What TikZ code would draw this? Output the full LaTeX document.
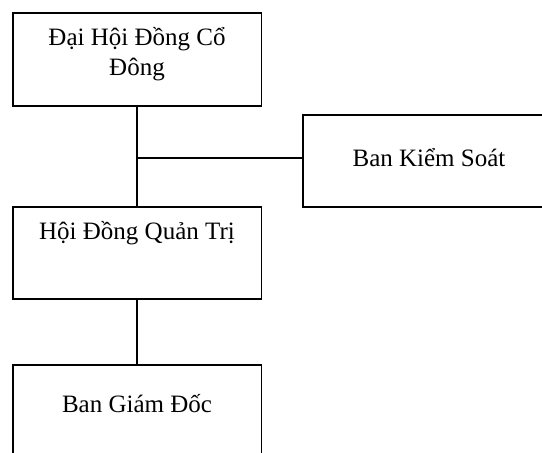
\documentclass[tikz,border=0pt]{standalone}
\usepackage{fontspec}
\setmainfont{Liberation Serif}
\begin{document}
\begin{tikzpicture}[x=1pt,y=-1pt,
  box/.style={draw, line width=1.3pt, inner sep=0pt, outer sep=0pt, anchor=north west},
  conn/.style={line width=2pt},
  lbl/.style={font=\fontsize{25}{29.5}\selectfont, anchor=base, align=center, inner sep=0pt}]
\useasboundingbox (0,0) rectangle (542,453);
% boxes
\node[box, minimum width=248.5pt, minimum height=93pt] (dhdcd) at (13,13) {};
\node[box, minimum width=260pt, minimum height=92pt] (bks) at (303,115) {};
\node[box, minimum width=248.5pt, minimum height=92pt] (hdqt) at (13,207) {};
\node[box, minimum width=248.5pt, minimum height=120pt] (bgd) at (13,365) {};
% texts
\node[lbl] (t1) at (137,75) {Đại Hội Đồng Cổ\\Đông};
\node[lbl] (t2) at (429,166) {Ban Kiểm Soát};
\node[lbl] (t3) at (137,239) {Hội Đồng Quản Trị};
\node[lbl] (t4) at (137,412) {Ban Giám Đốc};
% connectors
\draw[conn] (dhdcd.south) -- (hdqt.north);
\coordinate (jn) at (137.25,158);
\draw[conn] (jn) -- (bks.west |- jn);
\draw[conn] (hdqt.south) -- (bgd.north);
\end{tikzpicture}
\end{document}
